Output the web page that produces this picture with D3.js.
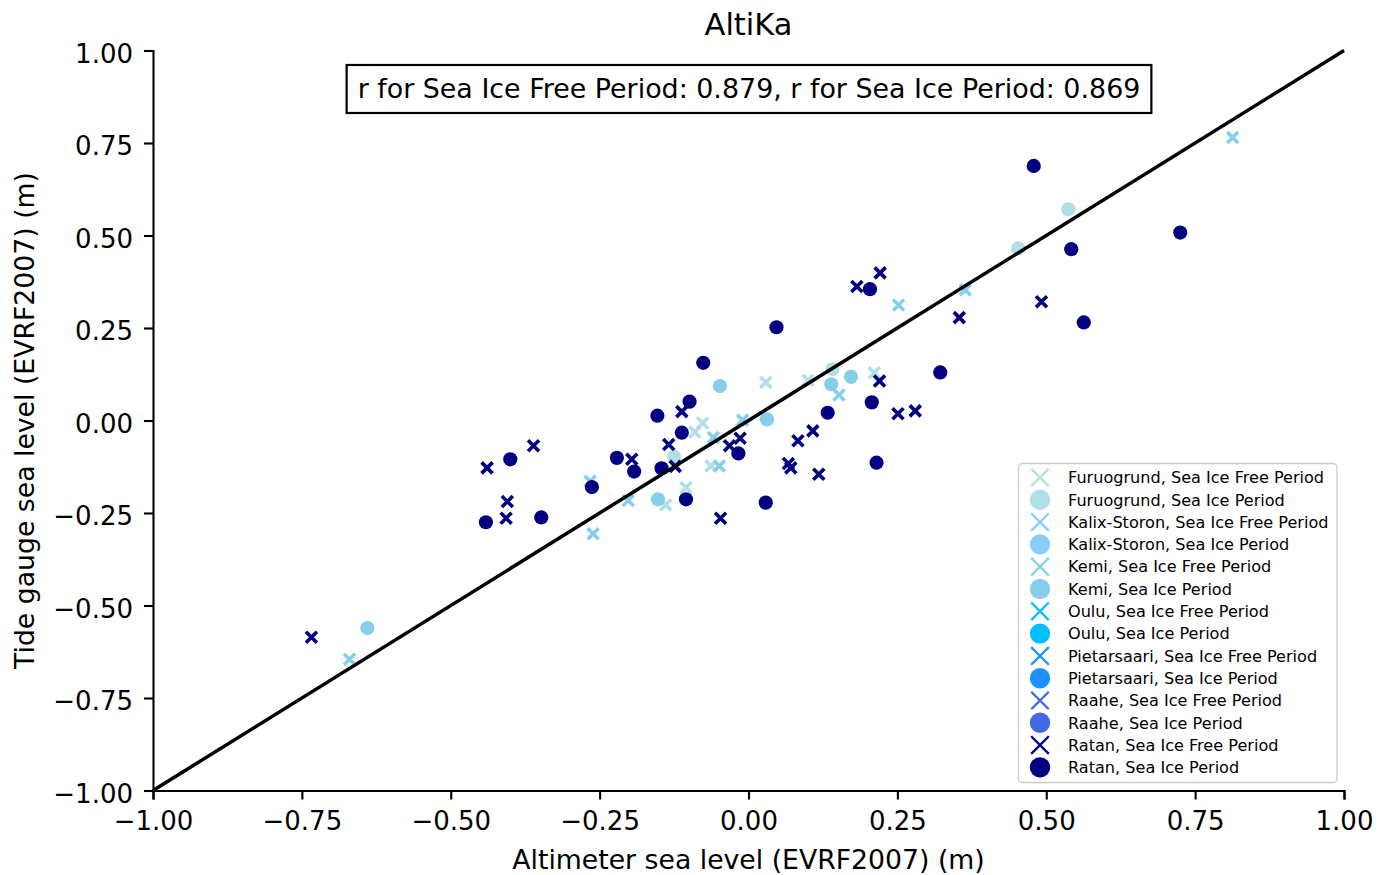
<!DOCTYPE html>
<html>
<head>
<meta charset="utf-8">
<script src="https://cdn.jsdelivr.net/npm/d3@7"></script>
<style>
  body { margin: 0; background: #fff; }
  text { font-family: "DejaVu Sans", sans-serif; fill: #000; }
</style>
</head>
<body>
<script>
// sea level pairs [altimeter, tide gauge] in metres
const furuogrundFree = [[-0.139,-0.228],[-0.105,-0.181],[-0.090,-0.031],[-0.077,-0.007],[-0.063,-0.123],[0.029,0.103],[0.100,0.109],[0.211,0.129]];
const furuogrundIce = [[-0.125,-0.098],[0.141,0.139],[0.453,0.465],[0.537,0.571]];
const kalixFree = [];
const kalixIce = [];
const kemiFree = [[-0.670,-0.645],[-0.261,-0.306],[-0.266,-0.164],[-0.202,-0.216],[-0.010,0.001],[-0.059,-0.046],[-0.049,-0.123],[0.152,0.069],[0.252,0.312],[0.364,0.353],[0.813,0.765]];
const kemiIce = [[-0.640,-0.561],[-0.152,-0.213],[-0.048,0.093],[0.031,0.003],[0.139,0.098],[0.172,0.118]];
const ouluFree = [];
const ouluIce = [];
const pietarsaariFree = [];
const pietarsaariIce = [];
const raaheFree = [];
const raaheIce = [];
const ratanFree = [[-0.734,-0.586],[-0.439,-0.128],[-0.361,-0.068],[-0.405,-0.219],[-0.407,-0.264],[-0.196,-0.105],[-0.112,0.024],[-0.134,-0.065],[-0.123,-0.124],[-0.047,-0.264],[-0.014,-0.048],[-0.032,-0.068],[0.067,-0.116],[0.071,-0.128],[0.083,-0.055],[0.108,-0.028],[0.118,-0.145],[0.220,0.107],[0.251,0.018],[0.280,0.026],[0.221,0.399],[0.182,0.362],[0.354,0.278],[0.492,0.321]];
const ratanIce = [[-0.441,-0.275],[-0.400,-0.105],[-0.348,-0.262],[-0.263,-0.180],[-0.221,-0.101],[-0.192,-0.138],[-0.153,0.013],[-0.112,-0.033],[-0.099,0.051],[-0.146,-0.129],[-0.105,-0.213],[-0.076,0.156],[-0.017,-0.089],[0.029,-0.222],[0.047,0.252],[0.133,0.021],[0.207,0.049],[0.215,-0.114],[0.204,0.355],[0.322,0.130],[0.479,0.688],[0.542,0.463],[0.563,0.265],[0.725,0.508]];

const stations = ['Furuogrund', 'Kalix-Storon', 'Kemi', 'Oulu', 'Pietarsaari', 'Raahe', 'Ratan'];
const stationColors = ['#b0e0e6', '#87cefa', '#87ceeb', '#00bfff', '#1e90ff', '#4169e1', '#000080'];
const freeData = [furuogrundFree, kalixFree, kemiFree, ouluFree, pietarsaariFree, raaheFree, ratanFree];
const iceData = [furuogrundIce, kalixIce, kemiIce, ouluIce, pietarsaariIce, raaheIce, ratanIce];

const tickValues = [-1, -0.75, -0.5, -0.25, 0, 0.25, 0.5, 0.75, 1];
const rFree = 0.879;
const rIce = 0.869;

const width = 1379;
const height = 875;

const svg = d3.select('body').append('svg').attr('width', width).attr('height', height);

const x = d3.scaleLinear().domain([-1, 1]).range([153, 1344]);
const y = d3.scaleLinear().domain([-1, 1]).range([790.5, 50.5]);

// one entry per legend row, free period (x) then ice period (dot)
const series = stations.flatMap((s, i) => [
    {label: `${s}, Sea Ice Free Period`, marker: 'x', color: stationColors[i], pts: freeData[i]},
    {label: `${s}, Sea Ice Period`, marker: 'o', color: stationColors[i], pts: iceData[i]}
]);

const crossPath = a => `M${-a},${-a}L${a},${a}M${-a},${a}L${a},${-a}`;

// axes
const fmt = d3.format('.2f');
const xAxis = svg.append('g')
    .attr('transform', `translate(0,${y(-1)})`)
    .call(d3.axisBottom(x).tickValues(tickValues).tickFormat(fmt).tickSizeOuter(0).tickSize(9).tickPadding(12.5));
const yAxis = svg.append('g')
    .attr('transform', `translate(${x(-1)},0)`)
    .call(d3.axisLeft(y).tickValues(tickValues).tickFormat(fmt).tickSizeOuter(0).tickSize(9).tickPadding(11));
[xAxis, yAxis].forEach(ax => {
    ax.selectAll('path, line').attr('stroke', '#000').attr('stroke-width', 2.1);
    ax.selectAll('text').attr('font-size', 26).attr('font-family', '"DejaVu Sans", sans-serif').attr('fill', '#000');
});
yAxis.selectAll('text').attr('dy', '0.46em');

// points
const pg = svg.append('g');
series.forEach(s => {
    if (s.marker === 'o') {
        pg.selectAll(null).data(s.pts).enter().append('circle')
            .attr('cx', d => x(d[0])).attr('cy', d => y(d[1]))
            .attr('r', 7.1).attr('fill', s.color);
    } else {
        pg.selectAll(null).data(s.pts).enter().append('path')
            .attr('transform', d => `translate(${x(d[0])},${y(d[1])})`)
            .attr('d', crossPath(5.5))
            .attr('stroke', s.color).attr('stroke-width', 3.6).attr('fill', 'none');
    }
});

// 1:1 line
svg.append('line')
    .attr('x1', x(-1)).attr('y1', y(-1)).attr('x2', x(1)).attr('y2', y(1))
    .attr('stroke', '#000').attr('stroke-width', 3.5);

// title and labels
svg.append('text').attr('x', 748.5).attr('y', 35).attr('text-anchor', 'middle')
    .attr('font-size', 30.5).text('AltiKa');
svg.append('text').attr('x', 748.5).attr('y', 868.5).attr('text-anchor', 'middle')
    .attr('font-size', 26.7).text('Altimeter sea level (EVRF2007) (m)');
svg.append('text').attr('transform', 'translate(34,420.5) rotate(-90)').attr('text-anchor', 'middle')
    .attr('font-size', 26.7).text('Tide gauge sea level (EVRF2007) (m)');

// correlation box
const boxG = svg.append('g');
const boxRect = boxG.append('rect');
const boxText = boxG.append('text').attr('x', 749).attr('y', 98).attr('text-anchor', 'middle')
    .attr('font-size', 26.9)
    .text(`r for Sea Ice Free Period: ${rFree.toFixed(3)}, r for Sea Ice Period: ${rIce.toFixed(3)}`);
const bb = boxText.node().getBBox();
boxRect.attr('x', bb.x - 11).attr('y', 65).attr('width', bb.width + 22).attr('height', 48)
    .attr('fill', '#fff').attr('stroke', '#000').attr('stroke-width', 2.2);

// legend
const lg = svg.append('g');
lg.append('rect').attr('x', 1018.5).attr('y', 463.5).attr('width', 318.5).attr('height', 319)
    .attr('rx', 4).attr('fill', '#fff').attr('fill-opacity', 0.8)
    .attr('stroke', '#cccccc').attr('stroke-width', 1.3);
const rows = lg.selectAll('g.row').data(series).enter().append('g')
    .attr('class', 'row')
    .attr('transform', (d, i) => `translate(1040,${477.5 + i * 22.3})`);
rows.filter(d => d.marker === 'o').append('circle').attr('r', 10.2).attr('fill', d => d.color);
rows.filter(d => d.marker === 'x').append('path').attr('d', crossPath(8.8))
    .attr('stroke', d => d.color).attr('stroke-width', 2.3).attr('fill', 'none');
rows.append('text').attr('x', 28).attr('dy', '0.36em').attr('font-size', 16.1).text(d => d.label);
</script>
</body>
</html>
